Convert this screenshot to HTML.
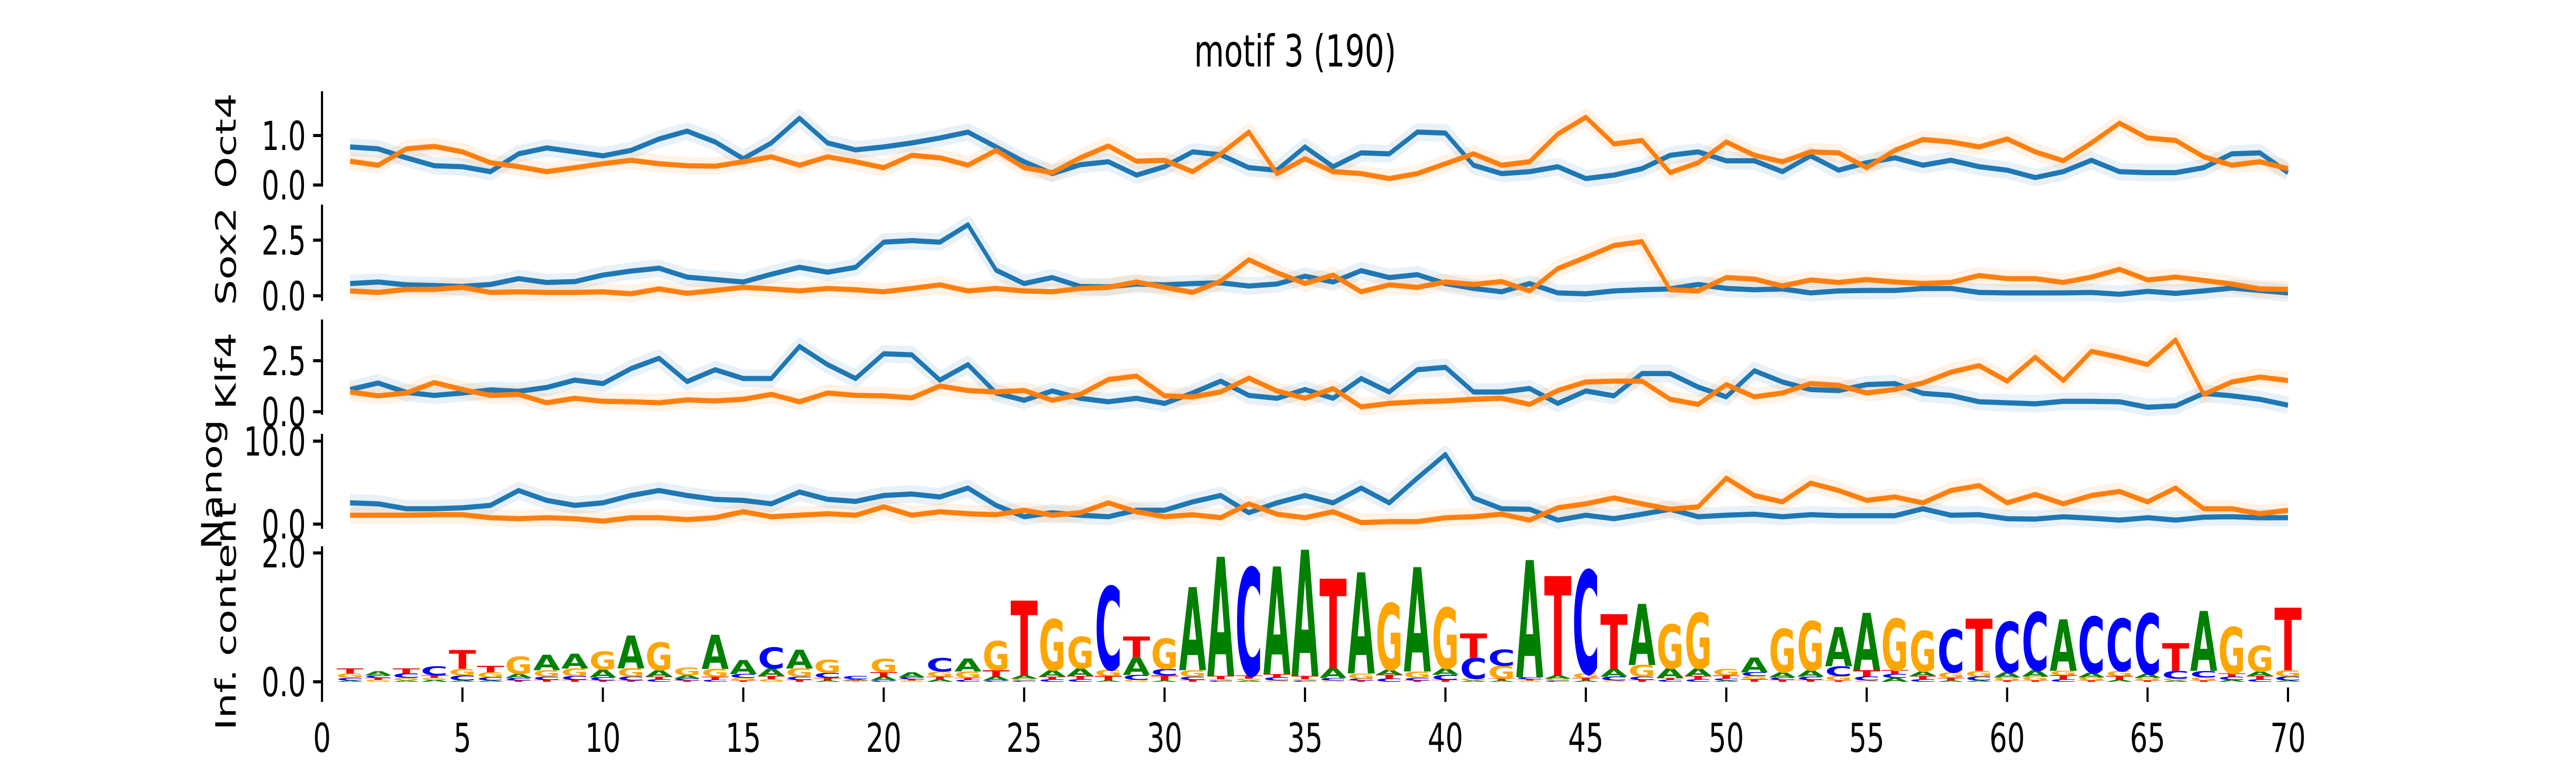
<!DOCTYPE html>
<html><head><meta charset="utf-8"><style>
html,body{margin:0;padding:0;background:#fff;width:100%;height:100%;overflow:hidden;}
svg{display:block;width:100vw;height:100vh;}
text{font-family:"DejaVu Sans","Liberation Sans",sans-serif;}
</style></head><body>
<svg id="fig" viewBox="0 0 7200 1500" preserveAspectRatio="none" xmlns="http://www.w3.org/2000/svg">
<text x="3620" y="129" font-size="86" text-anchor="middle" fill="#000">motif 3 (190)</text>
<g id="plots"></g>
</svg>
<script>
const positions = [1,2,3,4,5,6,7,8,9,10,11,12,13,14,15,16,17,18,19,20,21,22,23,24,25,26,27,28,29,30,31,32,33,34,35,36,37,38,39,40,41,42,43,44,45,46,47,48,49,50,51,52,53,54,55,56,57,58,59,60,61,62,63,64,65,66,67,68,69,70];
const xTicks = [0,5,10,15,20,25,30,35,40,45,50,55,60,65,70];
const oct4Blue = [.77,.73,.55,.39,.37,.27,.63,.75,.67,.59,.70,.93,1.09,.87,.53,.85,1.35,.85,.71,.77,.85,.95,1.07,.77,.47,.23,.41,.47,.20,.37,.67,.61,.35,.30,.77,.37,.65,.63,1.07,1.05,.40,.23,.27,.37,.13,.20,.33,.60,.67,.49,.49,.27,.59,.30,.45,.55,.40,.50,.37,.30,.15,.27,.50,.27,.25,.25,.35,.63,.65,.25];
const oct4Orange = [.48,.40,.73,.78,.67,.45,.37,.27,.35,.43,.50,.43,.39,.38,.47,.57,.40,.57,.47,.35,.60,.55,.40,.70,.35,.25,.55,.79,.48,.50,.27,.63,1.07,.23,.53,.27,.23,.13,.23,.43,.63,.40,.47,1.03,1.37,.83,.90,.25,.45,.87,.60,.47,.67,.65,.35,.70,.92,.87,.77,.93,.67,.49,.85,1.25,.95,.90,.57,.40,.47,.33];
const sox2Blue = [.55,.62,.49,.46,.42,.51,.77,.60,.64,.93,1.11,1.24,.84,.73,.62,.97,1.28,1.06,1.28,2.41,2.48,2.41,3.19,1.15,.55,.82,.42,.40,.53,.49,.55,.58,.44,.53,.88,.62,1.13,.82,.95,.55,.33,.18,.55,.13,.09,.22,.27,.31,.51,.33,.27,.31,.13,.22,.24,.24,.33,.33,.15,.13,.13,.13,.15,.07,.20,.11,.22,.35,.24,.13];
const sox2Orange = [.22,.15,.29,.29,.38,.15,.18,.15,.15,.18,.09,.31,.11,.24,.38,.31,.22,.33,.27,.18,.33,.49,.22,.33,.22,.18,.33,.38,.62,.38,.15,.66,1.62,1.04,.55,.93,.18,.49,.38,.62,.51,.64,.22,1.22,1.73,2.26,2.43,.27,.22,.82,.75,.44,.71,.60,.73,.62,.55,.60,.91,.77,.77,.60,.84,1.19,.71,.84,.69,.53,.31,.29];
const klf4Blue = [1.09,1.41,.95,.80,.92,1.07,1.00,1.19,1.55,1.38,2.11,2.62,1.48,2.06,1.63,1.63,3.20,2.31,1.63,2.84,2.79,1.55,2.31,.92,.56,1.02,.66,.49,.66,.41,.92,1.50,.80,.66,1.09,.66,1.63,.97,2.06,2.18,.97,.97,1.14,.41,1.02,.78,1.87,1.87,1.21,.73,2.01,1.46,1.09,1.04,1.33,1.38,.90,.80,.49,.44,.39,.51,.51,.49,.22,.29,.90,.78,.61,.32];
const klf4Orange = [.97,.78,.92,1.43,1.09,.80,.85,.44,.66,.51,.49,.44,.58,.53,.61,.85,.49,.92,.80,.78,.68,1.26,1.04,.97,1.04,.56,.85,1.58,1.75,.78,.73,.97,1.65,1.02,.66,1.14,.24,.41,.49,.53,.61,.66,.36,1.04,1.46,1.50,1.50,.61,.36,1.33,.73,.92,1.38,1.29,.92,1.09,1.41,1.94,2.26,1.50,2.67,1.53,2.96,2.67,2.31,3.52,.85,1.46,1.70,1.53];
const nanogBlue = [2.56,2.44,1.85,1.85,1.96,2.26,4.05,2.86,2.26,2.56,3.45,4.05,3.45,2.98,2.86,2.44,3.87,2.98,2.74,3.45,3.63,3.27,4.35,2.26,.89,1.37,1.07,.89,1.67,1.67,2.68,3.45,1.37,2.56,3.45,2.56,4.35,2.56,5.54,8.39,3.15,1.85,1.79,.48,1.07,.65,1.19,1.79,.89,1.07,1.19,.89,1.13,1.01,1.01,1.01,1.85,1.07,1.13,.65,.60,.89,.71,.48,.77,.48,.83,.89,.77,.77];
const nanogOrange = [1.07,1.07,1.07,1.13,1.13,.77,.65,.77,.65,.36,.77,.77,.54,.77,1.49,.89,1.07,1.25,1.07,2.08,1.07,1.49,1.25,1.13,1.67,1.07,1.37,2.56,1.49,.89,1.13,.77,2.44,1.19,.77,1.49,.18,.30,.30,.77,.89,1.19,.48,1.96,2.44,3.15,2.44,1.79,2.08,5.54,3.45,2.68,4.94,4.05,2.86,3.27,2.56,4.05,4.64,2.56,3.57,2.44,3.45,3.93,2.68,4.35,1.85,1.85,1.25,1.67];
const logoA = [.02,.06,.02,.03,.02,.02,.06,.24,.23,.12,.51,.10,.05,.53,.22,.12,.29,.02,.02,.06,.08,.04,.20,.06,.05,.10,.12,.02,.27,.02,1.29,1.85,.02,1.67,1.96,.15,1.57,.08,1.62,.10,.02,.02,1.82,.05,.02,.12,.95,.15,.12,.02,.23,.08,.10,.61,.89,.06,.07,.02,.02,.08,.10,.80,.07,.03,.06,.02,.93,.03,.07,.02];
const logoC = [.04,.04,.07,.14,.08,.05,.04,.05,.06,.05,.06,.04,.03,.03,.06,.33,.05,.08,.05,.02,.03,.21,.03,.02,.02,.04,.04,1.29,.08,.10,.05,.02,1.67,.05,.02,.04,.03,.05,.04,.08,.32,.25,.03,.02,1.60,.06,.05,.03,.04,.03,.06,.04,.05,.15,.06,.06,.04,.66,.06,.78,.90,.04,.87,.81,.94,.12,.10,.05,.04,.06];
const logoG = [.07,.03,.04,.03,.10,.08,.27,.10,.12,.28,.13,.43,.12,.12,.04,.04,.13,.20,.01,.21,.02,.08,.10,.45,.03,.79,.49,.10,.03,.47,.10,.02,.03,.02,.02,.02,.08,1.03,.10,.94,.03,.20,.02,.03,.07,.02,.18,.68,.86,.10,.05,.67,.76,.07,.02,.80,.63,.09,.09,.05,.06,.07,.05,.08,.04,.03,.05,.72,.40,.10];
const logoT = [.08,.03,.08,.04,.29,.10,.02,.03,.03,.02,.02,.04,.02,.05,.02,.05,.03,.04,.01,.07,.02,.04,.03,.10,1.16,.04,.05,.07,.32,.08,.03,.05,.05,.05,.05,1.39,.02,.06,.02,.03,.38,.03,.02,1.54,.04,.85,.03,.03,.05,.05,.04,.03,.03,.02,.10,.06,.05,.04,.81,.02,.02,.06,.02,.06,.02,.43,.02,.05,.05,.97];

const NS = 'http://www.w3.org/2000/svg';
const root = document.getElementById('plots');
const X0 = 900, XU = 78.5;
function xs(v){ return X0 + XU*v; }
function mk(tag, attrs, parent){
  const e = document.createElementNS(NS, tag);
  for (const k in attrs) e.setAttribute(k, attrs[k]);
  (parent||root).appendChild(e);
  return e;
}
const BLUE = '#1f77b4', ORANGE = '#ff7f0e';
const panels = [
  {name:'oct4', label:'Oct4', top:177, bot:362, y0:359, y1:263, v1:1.0, ticks:[0,1.0], blue:oct4Blue, orange:oct4Orange, lx:631},
  {name:'sox2', label:'Sox2', top:397, bot:584, y0:574, y1:466, v1:2.5, ticks:[0,2.5], blue:sox2Blue, orange:sox2Orange, lx:631},
  {name:'klf4', label:'Klf4', top:620, bot:805, y0:799, y1:700, v1:2.5, ticks:[0,2.5], blue:klf4Blue, orange:klf4Orange, lx:631},
  {name:'nanog', label:'Nanog', top:842, bot:1026, y0:1017, y1:856, v1:10, ticks:[0,10], blue:nanogBlue, orange:nanogOrange, lx:591}
];
function yAxis(p, g){
  const sp = mk('line',{x1:X0,x2:X0,y1:p.top,y2:p.bot,stroke:'#000','stroke-width':6},g);
  
  
  p.ticks.forEach(t=>{
    const y = p.ys(t);
    const tk = mk('line',{x1:X0-25,x2:X0,y1:y,y2:y,stroke:'#000','stroke-width':6},g);
    
    
    const tx = mk('text',{x:X0-45,y:y+28,'font-size':78,'text-anchor':'end',fill:'#000'},g);
    tx.textContent = t.toFixed(1);
    
    
  });
  const lb = mk('text',{x:0,y:0,'font-size':78,'text-anchor':'middle',fill:'#000',transform:'translate('+(p.lx+28)+','+p.lcy+') rotate(-90)'},g);
  lb.textContent = p.label;
  
  
}
const lcys = [273, 497, 720, 940];
panels.forEach((p,pi)=>{
  p.ys = v => p.y0 + (p.y1-p.y0)*v/p.v1;
  p.lcy = lcys[pi];
  const g = mk('g',{});
  
  
  [['blue',BLUE,p.blue],['orange',ORANGE,p.orange]].forEach(([nm,col,arr])=>{
    const pts = arr.map((v,i)=>xs(positions[i]).toFixed(1)+','+p.ys(v).toFixed(1)).join(' ');
    const band = mk('polyline',{points:pts,fill:'none',stroke:col,'stroke-opacity':0.1,'stroke-width':34,'stroke-linejoin':'round'},g);
    
    
  });
  [['blue',BLUE,p.blue],['orange',ORANGE,p.orange]].forEach(([nm,col,arr])=>{
    const pts = arr.map((v,i)=>xs(positions[i]).toFixed(1)+','+p.ys(v).toFixed(1)).join(' ');
    const ln = mk('polyline',{points:pts,fill:'none',stroke:col,'stroke-width':10,'stroke-linejoin':'round'},g);
    
    
  });
  yAxis(p, g);
});

const logo = {name:'logo', label:'Inf. content', top:1060, bot:1334, y0:1323, y1:1073, v1:2, ticks:[0,2.0], lx:631, lcy:1196};
logo.ys = v => logo.y0 + (logo.y1-logo.y0)*v/logo.v1;
const lg = mk('g',{});


const colors = {A:'#008000', C:'#0000ff', G:'#ffa500', T:'#ff0000'};
const pxPerBit = (logo.y0-logo.y1)/logo.v1;
positions.forEach((pos,i)=>{
  const stack = [['A',logoA[i]],['C',logoC[i]],['G',logoG[i]],['T',logoT[i]]].sort((a,b)=>a[1]-b[1]);
  let base = 0;
  const w = 76, x0 = xs(pos) - w/2;
  stack.forEach(([L,h])=>{
    const hp = h*pxPerBit;
    const yb = logo.ys(base);
    base += h;
    if (hp < 0.5) return;
    const t = mk('text',{x:0,y:0,'font-size':100,'font-weight':'bold',fill:colors[L],textLength:70,lengthAdjust:'spacingAndGlyphs',
      transform:'translate('+x0.toFixed(1)+','+yb.toFixed(1)+') scale('+(w/70).toFixed(3)+','+(hp/72.9).toFixed(4)+')'},lg);
    t.textContent = L;
    
    
  });
});
yAxis(logo, lg);
xTicks.forEach(t=>{
  const x = xs(t);
  const tk = mk('line',{x1:x,x2:x,y1:1334,y2:1362,stroke:'#000','stroke-width':6},lg);
  
  
  const tx = mk('text',{x:x,y:1459,'font-size':78,'text-anchor':'middle',fill:'#000'},lg);
  tx.textContent = String(t);
  
  
});
</script>
</body></html>
